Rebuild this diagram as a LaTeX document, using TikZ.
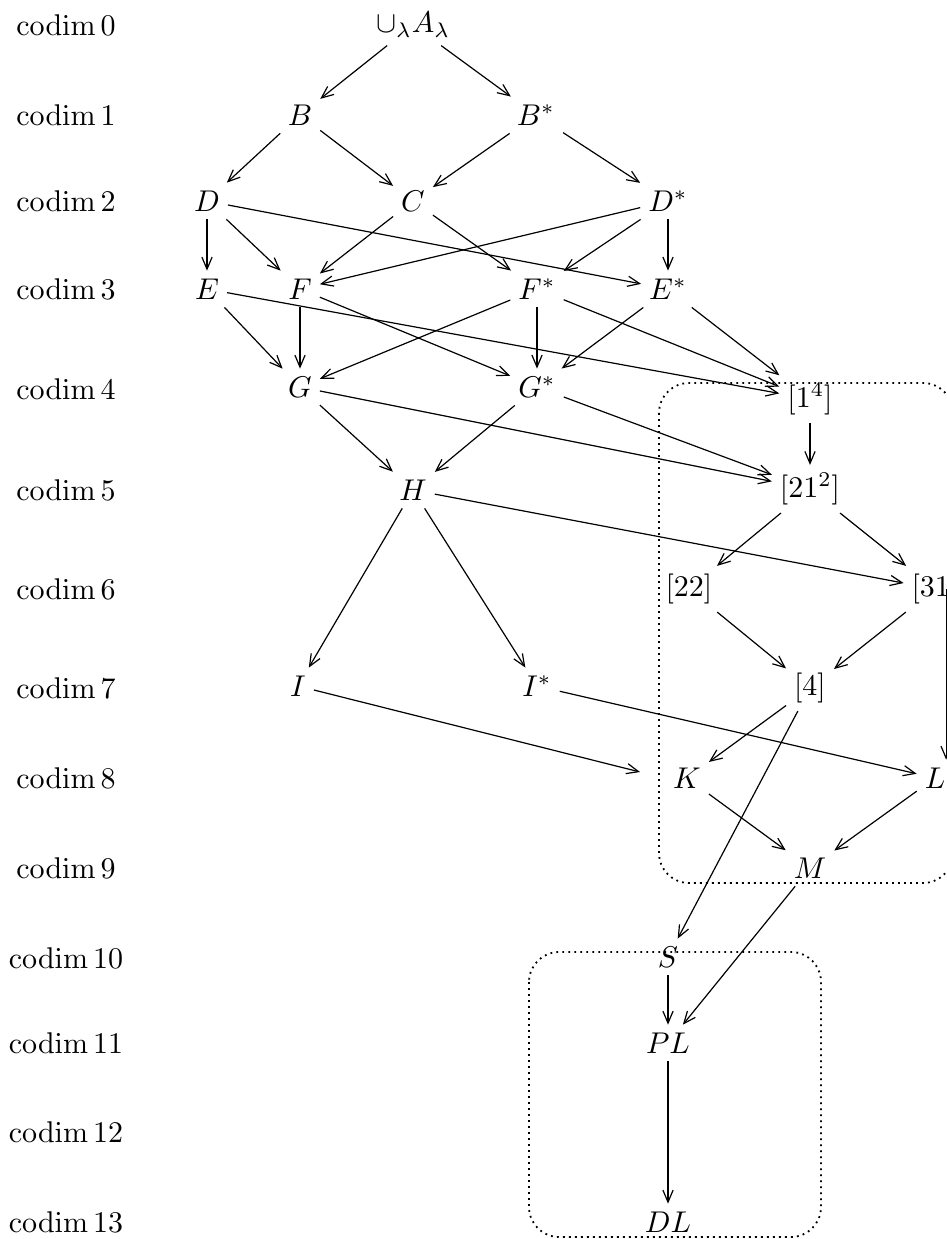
\documentclass[tikz,border=0pt]{standalone}
\usepackage{amssymb}
\usepackage{amsmath}
\usetikzlibrary{arrows.meta}

\begin{document}
\begin{tikzpicture}[x=0.3333pt, y=-0.3333pt,
  obj/.style={inner sep=2.5pt},
  arr/.style={-{Straight Barb[length=4pt,width=3.4pt]}, line width=0.4pt},
  grp/.style={line width=0.6pt, dash pattern=on 0.6pt off 1.4pt, rounded corners=10pt}
]
\useasboundingbox (0,0) rectangle (947,1239);
\foreach \k/\y in {0/25,1/115,2/201,3/289,4/389,5/490,6/589,7/688,8/778,9/868,10/958,11/1043,12/1132,13/1222}
  \node (codim\k) at (66,\y) {$\operatorname{codim}\k$};

\node[obj] (A)    at (413,25)  {$\cup_\lambda A_\lambda$};
\node[obj] (B)    at (300,115) {$B$};
\node[obj] (Bs)   at (536,115) {$B^*$};
\node[obj] (D)    at (207,201) {$D$};
\node[obj] (C)    at (413,201) {$C$};
\node[obj] (Ds)   at (668,201) {$D^*$};
\node[obj] (E)    at (207,289) {$E$};
\node[obj] (F)    at (300,289) {$F$};
\node[obj] (Fs)   at (537,289) {$F^*$};
\node[obj] (Es)   at (668,289) {$E^*$};
\node[obj] (G)    at (300,387) {$G$};
\node[obj] (Gs)   at (537,387) {$G^*$};
\node[obj] (p14)  at (810,399) {$[1^4]$};
\node[obj] (H)    at (413,490) {$H$};
\node[obj] (p212) at (810,489) {$[21^2]$};
\node[obj] (p22)  at (689,589) {$[22]$};
\node[obj] (p31)  at (935,589) {$[31]$};
\node[obj] (I)    at (298,686) {$I$};
\node[obj] (Is)   at (537,686) {$I^*$};
\node[obj] (p4)   at (810,688) {$[4]$};
\node[obj] (K)    at (687,778) {$K$};
\node[obj] (L)    at (935,778) {$L$};
\node[obj] (M)    at (810,868) {$M$};
\node[obj] (S)    at (668,957) {$S$};
\node[obj] (PL)   at (668,1043) {$PL$};
\node[obj] (DL)   at (668,1222) {$DL$};
\coordinate (box) at (640,772);

\draw[grp] (659,383) rectangle (953,883);
\draw[grp] (529,952) rectangle (821,1237);

\draw[arr] (A) -- (B);
\draw[arr] (A) -- (Bs);
\draw[arr] (B) -- (D);
\draw[arr] (B) -- (C);
\draw[arr] (Bs) -- (C);
\draw[arr] (Bs) -- (Ds);
\draw[arr] (D) -- (E);
\draw[arr] (D) -- (F);
\draw[arr] (D) -- (Es);
\draw[arr] (C) -- (F);
\draw[arr] (C) -- (Fs);
\draw[arr] (Ds) -- (F);
\draw[arr] (Ds) -- (Fs);
\draw[arr] (Ds) -- (Es);
\draw[arr] (E) -- (G);
\draw[arr] (E) -- (p14);
\draw[arr] (F) -- (G);
\draw[arr] (F) -- (Gs);
\draw[arr] (Fs) -- (G);
\draw[arr] (Fs) -- (Gs);
\draw[arr] (Fs) -- (p14);
\draw[arr] (Es) -- (Gs);
\draw[arr] (Es) -- (p14);
\draw[arr] (G) -- (H);
\draw[arr] (G) -- (p212);
\draw[arr] (Gs) -- (H);
\draw[arr] (Gs) -- (p212);
\draw[arr] (p14) -- (p212);
\draw[arr] (H) -- (I);
\draw[arr] (H) -- (Is);
\draw[arr] (H) -- (p31);
\draw[arr] (p212) -- (p22);
\draw[arr] (p212) -- (p31);
\draw[arr] (p22) -- (p4);
\draw[arr] (p31) -- (p4);
\draw[arr] ([xshift=3.7pt]p31.center) -- ([xshift=3.7pt]L.north);
\draw[arr] (I) -- (box);
\draw[arr] (Is) -- (L);
\draw[arr] (p4) -- (K);
\draw[arr] (p4) -- (S);
\draw[arr] (K) -- (M);
\draw[arr] (L) -- (M);
\draw[arr] (M) -- (PL);
\draw[arr] (S) -- (PL);
\draw[arr] (PL) -- (DL);
\end{tikzpicture}
\end{document}
